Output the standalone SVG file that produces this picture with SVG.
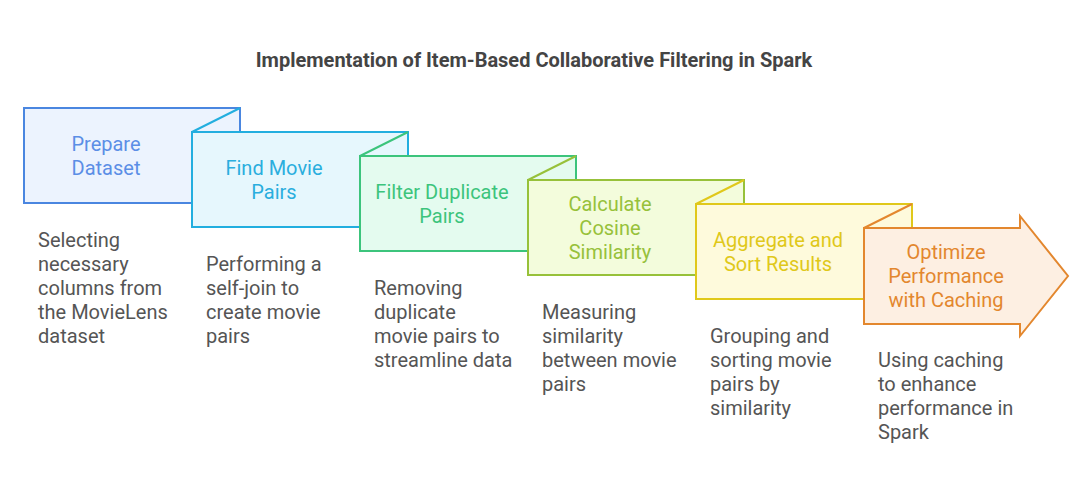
<svg xmlns="http://www.w3.org/2000/svg" width="1092" height="492" viewBox="0 0 1092 492">
<style>
.title{font-family:Roboto,"Liberation Sans",sans-serif;font-size:20px;font-weight:bold;fill:#444;text-anchor:middle}
.lbl{font-family:Roboto,"Liberation Sans",sans-serif;font-size:20px;text-anchor:middle}
.desc{font-family:Roboto,"Liberation Sans",sans-serif;font-size:20px;fill:#555}
.sh{stroke-width:2;stroke-linejoin:miter}
</style>
<rect width="1092" height="492" fill="#fff"/>
<text class="title" x="534" y="67">Implementation of Item-Based Collaborative Filtering in Spark</text>

<g id="step1">
<rect class="sh" x="24" y="108" width="216" height="95" fill="#ecf3fe" stroke="#4a86e0"/>
<text class="lbl" fill="#5b8ee6"><tspan x="106" y="151">Prepare</tspan><tspan x="106" y="175">Dataset</tspan></text>
<text class="desc"><tspan x="38" y="247">Selecting</tspan><tspan x="38" y="271">necessary</tspan><tspan x="38" y="295">columns from</tspan><tspan x="38" y="319">the MovieLens</tspan><tspan x="38" y="343">dataset</tspan></text>
</g>

<g id="step2">
<rect class="sh" x="192" y="132" width="216" height="95" fill="#e6f7fd" stroke="#22aedf"/>
<line class="sh" x1="192" y1="132" x2="240" y2="108" stroke="#22aedf"/>
<text class="lbl" fill="#2aaede"><tspan x="274" y="175">Find Movie</tspan><tspan x="274" y="199">Pairs</tspan></text>
<text class="desc"><tspan x="206" y="271">Performing a</tspan><tspan x="206" y="295">self-join to</tspan><tspan x="206" y="319">create movie</tspan><tspan x="206" y="343">pairs</tspan></text>
</g>

<g id="step3">
<rect class="sh" x="360" y="156" width="216" height="95" fill="#e4fbef" stroke="#3cc47c"/>
<line class="sh" x1="360" y1="156" x2="408" y2="132" stroke="#3cc47c"/>
<text class="lbl" fill="#3cc47c"><tspan x="442" y="199">Filter Duplicate</tspan><tspan x="442" y="223">Pairs</tspan></text>
<text class="desc"><tspan x="374" y="295">Removing</tspan><tspan x="374" y="319">duplicate</tspan><tspan x="374" y="343">movie pairs to</tspan><tspan x="374" y="367">streamline data</tspan></text>
</g>

<g id="step4">
<rect class="sh" x="528" y="180" width="216" height="95" fill="#f3fcdc" stroke="#97c13a"/>
<line class="sh" x1="528" y1="180" x2="576" y2="156" stroke="#97c13a"/>
<text class="lbl" fill="#97c13a"><tspan x="610" y="211">Calculate</tspan><tspan x="610" y="235">Cosine</tspan><tspan x="610" y="259">Similarity</tspan></text>
<text class="desc"><tspan x="542" y="319">Measuring</tspan><tspan x="542" y="343">similarity</tspan><tspan x="542" y="367">between movie</tspan><tspan x="542" y="391">pairs</tspan></text>
</g>

<g id="step5">
<rect class="sh" x="696" y="204" width="216" height="95" fill="#fefadc" stroke="#e0c81a"/>
<line class="sh" x1="696" y1="204" x2="744" y2="180" stroke="#e0c81a"/>
<text class="lbl" fill="#e0c81a"><tspan x="778" y="247">Aggregate and</tspan><tspan x="778" y="271">Sort Results</tspan></text>
<text class="desc"><tspan x="710" y="343">Grouping and</tspan><tspan x="710" y="367">sorting movie</tspan><tspan x="710" y="391">pairs by</tspan><tspan x="710" y="415">similarity</tspan></text>
</g>

<g id="step6">
<polygon class="sh" points="864,228 1020,228 1020,216 1068,276 1020,336 1020,324 864,324" fill="#fdefe2" stroke="#e3872e"/>
<line class="sh" x1="864" y1="228" x2="912" y2="204" stroke="#e3872e"/>
<text class="lbl" fill="#e3872e"><tspan x="946" y="259">Optimize</tspan><tspan x="946" y="283">Performance</tspan><tspan x="946" y="307">with Caching</tspan></text>
<text class="desc"><tspan x="878" y="367">Using caching</tspan><tspan x="878" y="391">to enhance</tspan><tspan x="878" y="415">performance in</tspan><tspan x="878" y="439">Spark</tspan></text>
</g>
<g id="connectors"/>
</svg>
